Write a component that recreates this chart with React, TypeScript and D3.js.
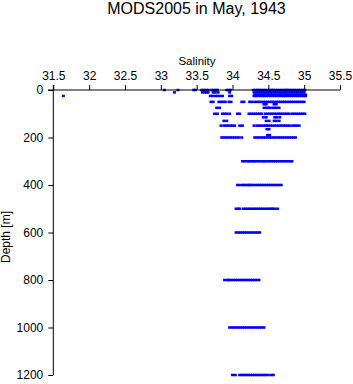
import { useEffect, useRef } from 'react'
import * as d3 from 'd3'

const TITLE = 'MODS2005 in May, 1943'
const salinityTicks = [31.5, 32, 32.5, 33, 33.5, 34, 34.5, 35, 35.5]
const depthTicks = [0, 200, 400, 600, 800, 1000, 1200]

// standard depths (m) of the casts
const depths = [0, 10, 20, 25, 50, 60, 75, 100, 115, 130, 150, 165, 190, 200, 300, 400, 500, 600, 800, 1000, 1200]

// salinity readings at each depth, same order as depths
const salinity: number[][] = [
  [33.05, 33.24, 33.46, 33.48, 33.57, 33.6, 33.63, 33.66, 33.71, 33.74, 33.77, 33.79, 33.92, 33.95, 33.97,
    34.29, 34.32, 34.35, 34.37, 34.4, 34.43, 34.46, 34.49, 34.52, 34.55, 34.57, 34.6, 34.63, 34.66, 34.69,
    34.72, 34.75, 34.77, 34.8, 34.83, 34.86, 34.89, 34.92, 34.95, 34.98, 35.01],
  [33.19, 33.58, 33.61, 33.64, 33.66, 33.73, 33.76, 33.8, 33.96,
    34.3, 34.33, 34.36, 34.39, 34.42, 34.45, 34.48, 34.5, 34.53, 34.56, 34.59, 34.62, 34.65, 34.68, 34.71,
    34.74, 34.76, 34.79, 34.82, 34.85, 34.88, 34.91, 34.94, 34.97, 35.0],
  [34.31, 34.34, 34.37, 34.4, 34.43, 34.46, 34.49, 34.52, 34.54, 34.57, 34.6, 34.63, 34.66, 34.69, 34.72,
    34.75, 34.78, 34.81, 34.84, 34.87, 34.9, 34.93, 34.96, 34.99, 35.02],
  [31.64, 33.69, 33.72, 33.76, 33.79, 33.82, 33.86, 33.96, 33.99,
    34.3, 34.33, 34.36, 34.39, 34.42, 34.44, 34.47, 34.5, 34.53, 34.56, 34.59, 34.62, 34.65, 34.68, 34.71,
    34.73, 34.76, 34.79, 34.82, 34.85, 34.88, 34.91, 34.94, 34.97, 35.0, 35.02],
  [33.7, 33.73, 33.81, 33.84, 33.87, 33.9, 33.95, 33.98, 34.13, 34.16, 34.24, 34.27,
    34.31, 34.34, 34.37, 34.4, 34.43, 34.46, 34.49, 34.52, 34.55, 34.58, 34.61, 34.64, 34.67, 34.7,
    34.73, 34.76, 34.79, 34.82, 34.85, 34.88, 34.91, 34.94, 34.97, 35.0],
  [34.44, 34.47, 34.58, 34.61],
  [33.78, 33.82, 34.44, 34.47, 34.5, 34.52, 34.56, 34.59, 34.62, 34.65],
  [33.75, 33.79, 33.86, 33.89, 33.92, 33.96, 34.07, 34.1,
    34.23, 34.26, 34.29, 34.32, 34.35, 34.38, 34.41, 34.46, 34.49, 34.52, 34.55, 34.58, 34.61, 34.64,
    34.67, 34.7, 34.73, 34.76, 34.79, 34.83, 34.86, 34.89, 34.92, 34.95, 34.98, 35.01],
  [34.43, 34.47, 34.59, 34.62, 34.66],
  [33.88, 33.92, 34.47, 34.51, 34.58, 34.61, 34.65],
  [33.84, 33.88, 33.91, 33.94, 33.97, 34.0, 34.03, 34.1, 34.14, 34.3, 34.34,
    34.37, 34.4, 34.43, 34.46, 34.48, 34.5, 34.53, 34.56, 34.59, 34.62, 34.65, 34.68, 34.71, 34.74, 34.77,
    34.8, 34.84, 34.87, 34.9, 34.93],
  [34.48, 34.51],
  [34.49, 34.52],
  [33.85, 33.88, 33.91, 33.94, 33.97, 34.0, 34.03, 34.06, 34.09, 34.13,
    34.31, 34.34, 34.37, 34.4, 34.43, 34.46, 34.49, 34.52, 34.55, 34.58, 34.61, 34.64, 34.67, 34.7, 34.73,
    34.76, 34.79, 34.82, 34.85, 34.88],
  [34.14, 34.17, 34.21, 34.23, 34.26, 34.29, 34.31, 34.34, 34.37, 34.4, 34.43, 34.45,
    34.48, 34.51, 34.54, 34.57, 34.6, 34.63, 34.66, 34.69, 34.72, 34.75, 34.78, 34.81, 34.83],
  [34.07, 34.1, 34.14, 34.16, 34.19, 34.22, 34.24, 34.26, 34.29, 34.32, 34.35, 34.38, 34.41, 34.44,
    34.47, 34.5, 34.53, 34.56, 34.59, 34.62, 34.65, 34.68],
  [34.05, 34.08, 34.1, 34.15, 34.18, 34.21, 34.24, 34.27, 34.3, 34.33, 34.36, 34.39, 34.42, 34.45,
    34.48, 34.51, 34.54, 34.56, 34.59, 34.63],
  [34.05, 34.08, 34.11, 34.14, 34.17, 34.2, 34.23, 34.26, 34.29, 34.32, 34.35, 34.38],
  [33.89, 33.93, 33.95, 33.98, 34.01, 34.04, 34.07, 34.1, 34.13, 34.16, 34.19, 34.22, 34.25, 34.28,
    34.31, 34.34, 34.37],
  [33.96, 33.99, 34.02, 34.05, 34.08, 34.11, 34.14, 34.17, 34.2, 34.23, 34.26, 34.29, 34.32, 34.35,
    34.38, 34.41, 34.44],
  [34.0, 34.04, 34.1, 34.13, 34.16, 34.19, 34.22, 34.25, 34.28, 34.31, 34.34, 34.37, 34.4, 34.43,
    34.46, 34.5, 34.54, 34.57],
]

const W = 353
const H = 384
const FONT = '"Liberation Sans", Arial, Helvetica, sans-serif'

export default function App() {
  const ref = useRef<SVGSVGElement>(null)

  useEffect(() => {
    if (!ref.current) return
    const svg = d3.select(ref.current)
    svg.selectAll('*').remove()

    const x = d3.scaleLinear().domain([31.5, 35.5]).range([53.3, 340])
    const y = d3.scaleLinear().domain([0, 1200]).range([90, 375])

    svg.append('text')
      .attr('x', 196.5).attr('y', 13.5)
      .attr('text-anchor', 'middle')
      .attr('font-family', FONT).attr('font-size', 16)
      .text(TITLE)

    svg.append('text')
      .attr('x', 197).attr('y', 64.5)
      .attr('text-anchor', 'middle')
      .attr('font-family', FONT).attr('font-size', 11.5)
      .text('Salinity')

    svg.append('text')
      .attr('transform', `translate(10,237) rotate(-90)`)
      .attr('text-anchor', 'middle')
      .attr('font-family', FONT).attr('font-size', 12)
      .text('Depth [m]')

    // points
    const pts = depths.flatMap((d, i) => salinity[i].map(s => ({ s, d })))
    svg.append('g')
      .selectAll('rect')
      .data(pts)
      .enter().append('rect')
      .attr('x', p => x(p.s) - 1.5)
      .attr('y', p => y(p.d) - 1.25)
      .attr('width', 3).attr('height', 2.5)
      .attr('fill', '#0000ff')

    // top axis
    const xAxis = d3.axisTop(x).tickValues(salinityTicks).tickSize(5).tickPadding(5)
      .tickFormat(d => String(d))
    const gx = svg.append('g').attr('transform', `translate(0,${y(0)})`).call(xAxis)
    gx.select('.domain').remove()
    gx.append('line').attr('x1', 48).attr('x2', 340).attr('stroke', '#000')
    gx.selectAll('text').attr('font-family', FONT).attr('font-size', 12).attr('fill', '#000')

    // left axis
    const yAxis = d3.axisLeft(y).tickValues(depthTicks).tickSize(5).tickPadding(5)
      .tickFormat(d => String(d))
    const gy = svg.append('g').attr('transform', `translate(${x(31.5)},0)`).call(yAxis)
    gy.select('.domain').remove()
    gy.append('line').attr('y1', 85).attr('y2', 375).attr('stroke', '#000')
    gy.selectAll('text').attr('font-family', FONT).attr('font-size', 12).attr('fill', '#000')
  }, [])

  return (
    <svg ref={ref} width={W} height={H}
      style={{ display: 'block', position: 'absolute', left: 0, top: 0, background: '#fff' }} />
  )
}
